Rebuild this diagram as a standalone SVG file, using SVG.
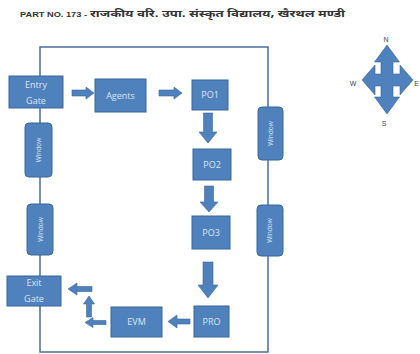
<svg xmlns="http://www.w3.org/2000/svg" width="420" height="354" viewBox="0 0 420 354">
<style>
.box{fill:#4f81bd;stroke:#3b679a;stroke-width:1}
.win{fill:#4f81bd;stroke:#3b679a;stroke-width:1}
.lbl{font-family:"Open Sans","Liberation Sans",sans-serif;font-size:9px;fill:#dce6f2;text-anchor:middle}
.wl{font-family:"Open Sans","Liberation Sans",sans-serif;font-size:6.5px;fill:#dce6f2;text-anchor:middle}
.arr{fill:#4f81bd;stroke:#3b679a;stroke-width:0.6}
.cmp{font-family:"Liberation Sans",sans-serif;font-size:7px;fill:#444;text-anchor:middle}
</style>
<rect width="420" height="354" fill="#ffffff"/>
<text x="20" y="17" font-family="'Liberation Sans',sans-serif" font-weight="bold" font-size="7" fill="#333" textLength="67" lengthAdjust="spacingAndGlyphs">PART NO. 173 -</text>
<text x="90" y="17" font-family="'Noto Sans Devanagari','Noto Sans',sans-serif" font-weight="bold" font-size="10" fill="#333" textLength="255" lengthAdjust="spacingAndGlyphs">राजकीय वरि. उपा. संस्कृत विद्यालय, खैरथल मण्डी</text>
<rect x="40" y="47" width="228" height="305" fill="none" stroke="#4a6f99" stroke-width="1.5"/>
<g id="connectors">
<path class="arr" d="M72,90 H86 V87 L94,93 L86,99 V96 H72 Z"/>
<path class="arr" d="M159,90 H174 V87 L182,93 L174,99 V96 H159 Z"/>
<path class="arr" d="M203.5,113 H212.5 V132 H217 L208,143 L199,132 H203.5 Z"/>
<path class="arr" d="M204.5,186 H213.5 V202 H218 L209,212 L200,202 H204.5 Z"/>
<path class="arr" d="M203,262 H213 V285 H218 L208,298 L198,285 H203 Z"/>
<path class="arr" d="M190,319 H177 V315 L168,321.5 L177,328 V324 H190 Z"/>
<path class="arr" d="M106,320.5 H93 V317.5 L85,322.5 L93,327.5 V324.5 H106 Z"/>
<path class="arr" d="M86.5,317 V304 H83.5 L89,296 L94.5,304 H91.5 V317 Z"/>
<path class="arr" d="M92,286.5 H77 V283 L68,289 L77,295 V291.5 H92 Z"/>
</g>
<g id="entry"><rect class="box" x="9" y="76" width="54" height="32"/><text class="lbl" x="36" y="88">Entry</text><text class="lbl" x="36" y="104">Gate</text></g>
<g id="agents"><rect class="box" x="95" y="79" width="51" height="33"/><text class="lbl" x="120.5" y="99">Agents</text></g>
<g id="po1"><rect class="box" x="192" y="80" width="36" height="30"/><text class="lbl" x="210" y="98">PO1</text></g>
<g id="po2"><rect class="box" x="193" y="149" width="38" height="31"/><text class="lbl" x="212" y="168">PO2</text></g>
<g id="po3"><rect class="box" x="192" y="216" width="38" height="33"/><text class="lbl" x="211" y="236">PO3</text></g>
<g id="pro"><rect class="box" x="194" y="306" width="35" height="31"/><text class="lbl" x="211.5" y="325">PRO</text></g>
<g id="evm"><rect class="box" x="111" y="307" width="51" height="30"/><text class="lbl" x="136.5" y="325">EVM</text></g>
<g id="exit"><rect class="box" x="7" y="276" width="54" height="30"/><text class="lbl" x="34" y="286">Exit</text><text class="lbl" x="34" y="302">Gate</text></g>
<g id="win1"><rect class="win" x="25" y="123" width="27" height="54" rx="4"/><text class="wl" transform="translate(40.5,150) rotate(-90)">Window</text></g>
<g id="win2"><rect class="win" x="27" y="204" width="26" height="51" rx="4"/><text class="wl" transform="translate(42.5,229.5) rotate(-90)">Window</text></g>
<g id="win3"><rect class="win" x="258" y="107" width="25" height="53" rx="4"/><text class="wl" transform="translate(272.5,133.5) rotate(-90)">Window</text></g>
<g id="win4"><rect class="win" x="257" y="205" width="26" height="51" rx="4"/><text class="wl" transform="translate(272,230.5) rotate(-90)">Window</text></g>
<g id="compass">
<path fill="#4f81bd" stroke="#3b679a" stroke-width="0.6" d="M387,45 L399.5,62 L393,62 L393,74 L400,74 L400,65 L413,80 L400,95 L400,86 L393,86 L393,97 L399.5,97 L387,114 L374.5,97 L381,97 L381,86 L375,86 L375,95 L362,80 L375,65 L375,74 L381,74 L381,62 L374.5,62 Z"/>
<text class="cmp" x="386" y="42">N</text>
<text class="cmp" x="384" y="126">S</text>
<text class="cmp" x="353" y="86">W</text>
<text class="cmp" x="416.5" y="86">E</text>
</g>
</svg>
